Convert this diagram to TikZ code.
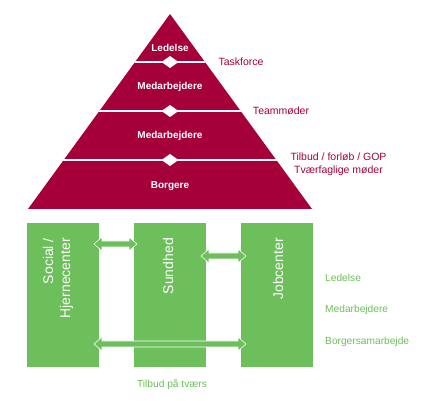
\documentclass[tikz,border=0pt]{standalone}
\usepackage{fontspec}
\setmainfont{Liberation Sans}
\usetikzlibrary{calc}
\definecolor{pyrred}{HTML}{A5003A}
\definecolor{boxgreen}{HTML}{6CBF5B}
\newcommand\dblarrow[2]{%
  \path[arrowshape] let \p1=(#1), \p2=(#2) in
    (\x1,\y1) -- (\x1+8pt,\y1+7pt) -- (\x1+8pt,\y1+3pt) -- (\x2-8pt,\y1+3pt)
    -- (\x2-8pt,\y1+7pt) -- (\x2,\y1) -- (\x2-8pt,\y1-7pt) -- (\x2-8pt,\y1-3pt)
    -- (\x1+8pt,\y1-3pt) -- (\x1+8pt,\y1-7pt) -- cycle;}
\begin{document}
\begin{tikzpicture}[x=1pt,y=1pt,
  pyrlabel/.style={text=white,font=\bfseries\fontsize{10}{12}\selectfont,inner sep=0},
  redlabel/.style={text=pyrred,font=\fontsize{10.5}{12.5}\selectfont,inner sep=0,align=center},
  greenlabel/.style={text=boxgreen,font=\fontsize{10.2}{12}\selectfont,inner sep=0},
  greenbox/.style={fill=boxgreen,minimum width=72pt,minimum height=144pt,inner sep=0},
  boxtext/.style={text=white,font=\fontsize{14}{17}\selectfont,rotate=90,anchor=east,inner sep=0,align=right},
  separator/.style={draw=white,line width=1.6pt},
  diamondmark/.style={fill=white},
  arrowshape/.style={fill=boxgreen,draw=white,line width=0.6pt,line join=miter}
]
\useasboundingbox (0,0) rectangle (426,401);
% pyramid
\coordinate (apex) at (170,387);
\coordinate (bl) at (28,192);
\coordinate (br) at (312,192);
\fill[pyrred] (apex) -- (br) -- (bl) -- cycle;
\begin{scope}
  \clip (apex) -- (br) -- (bl) -- cycle;
  \foreach \yy in {339,290,241}{
    \draw[separator] (20,\yy) -- (320,\yy);
    \fill[diamondmark] (161.5,\yy) -- (170,\yy+6) -- (178.5,\yy) -- (170,\yy-6) -- cycle;
  }
\end{scope}
\node[pyrlabel] (p1) at (170,353) {Ledelse};
\node[pyrlabel] (p2) at (170,314) {Medarbejdere};
\node[pyrlabel] (p3) at (170,265) {Medarbejdere};
\node[pyrlabel] (p4) at (170,215) {Borgere};
\node[redlabel] (r1) at (241,339) {Taskforce};
\node[redlabel] (r2) at (281,290.5) {Teammøder};
\node[redlabel,font=\fontsize{10.5}{13}\selectfont] (r3) at (338.5,237) {Tilbud / forløb / GOP\\Tværfaglige møder};
% boxes
\node[greenbox] (b1) at (63,106) {};
\node[greenbox] (b2) at (170,106) {};
\node[greenbox] (b3) at (277,106) {};
\node[boxtext] (t1) at (58,163) {Social /\\Hjernecenter};
\node[boxtext] (t2) at (168,163) {Sundhed};
\node[boxtext] (t3) at (278,163) {Jobcenter};
% arrows
\coordinate (a1l) at (94,157);
\coordinate (a1r) at (137,157);
\coordinate (a2l) at (201,145);
\coordinate (a2r) at (246,145);
\coordinate (a3l) at (94,57);
\coordinate (a3r) at (246,57);
\dblarrow{a1l}{a1r}
\dblarrow{a2l}{a2r}
\dblarrow{a3l}{a3r}
% green labels
\node[greenlabel,anchor=west] (g1) at (325,123) {Ledelse};
\node[greenlabel,anchor=west] (g2) at (325,91) {Medarbejdere};
\node[greenlabel,anchor=west] (g3) at (325,59) {Borgersamarbejde};
\node[greenlabel] (g4) at (172,17) {Tilbud på tværs};
\end{tikzpicture}
\end{document}
